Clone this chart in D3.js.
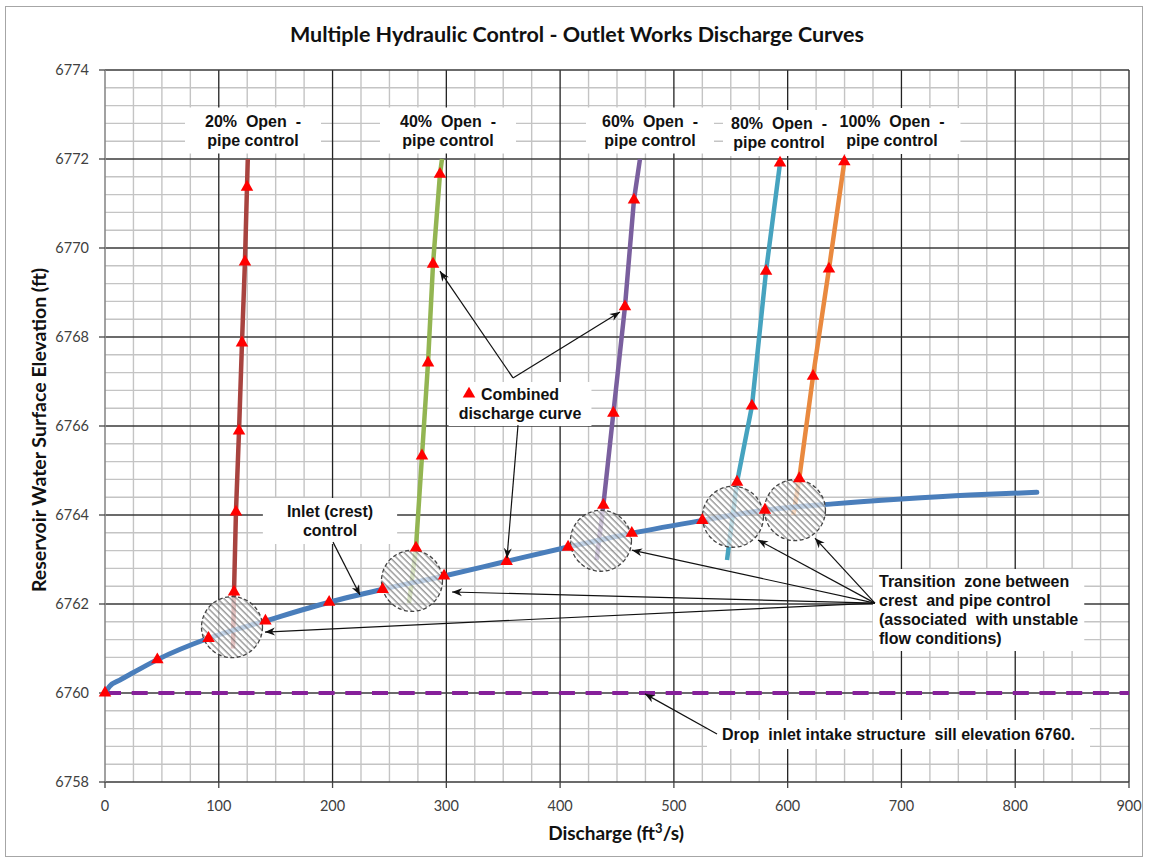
<!DOCTYPE html>
<html>
<head>
<meta charset="utf-8">
<script src="https://cdn.jsdelivr.net/npm/d3@7"></script>
<style>
  body { margin: 0; background: #fff; }
  svg { display: block; }
  .note { font-family: "Liberation Sans", Arial, sans-serif; font-weight: bold; font-size: 16px; fill: #111; white-space: pre; }
</style>
</head>
<body>
<svg></svg>
<script>
let width = 1149;
let height = 863;

// inlet (crest) control curve
let crestQ = [0, 4, 13, 25, 46, 91, 141, 197, 244, 298, 353, 407, 463, 525, 580, 640, 700, 760, 819];
let crestH = [6760, 6760.15, 6760.29, 6760.46, 6760.75, 6761.23, 6761.62, 6762.04, 6762.33, 6762.63,
              6762.96, 6763.28, 6763.59, 6763.88, 6764.11, 6764.25, 6764.36, 6764.45, 6764.51];
let crestMarkQ = [0, 46, 91, 141, 197, 244, 298, 353, 407, 463, 525, 580];
let crestMarkH = [6760, 6760.75, 6761.23, 6761.62, 6762.04, 6762.33, 6762.63, 6762.96, 6763.28, 6763.59, 6763.88, 6764.11];

// pipe control curves, one per gate opening
let pipeNames = ["20%", "40%", "60%", "80%", "100%"];
let pipeColours = ["#a8433f", "#93b552", "#7a5f9e", "#46a3bf", "#e9893f"];
let pipeQ = [
  [112.5, 113.4, 115.1, 117.8, 120.4, 123.0, 124.8, 125.5],
  [267.2, 273.3, 278.6, 283.9, 288.3, 294.4, 296.2],
  [432.1, 438.0, 446.8, 457.0, 464.9, 470.2],
  [546.7, 555.5, 568.6, 581.0, 593.3],
  [605.0, 610.2, 622.3, 636.3, 649.8]
];
let pipeH = [
  [6761.0, 6762.27, 6764.07, 6765.89, 6767.87, 6769.69, 6771.37, 6772.0],
  [6762.02, 6763.26, 6765.33, 6767.42, 6769.64, 6771.66, 6772.0],
  [6762.99, 6764.22, 6766.29, 6768.68, 6771.08, 6772.0],
  [6762.99, 6764.74, 6766.45, 6769.48, 6771.91],
  [6764.0, 6764.82, 6767.12, 6769.53, 6771.94]
];
let pipeMarkQ = [
  [113.4, 115.1, 117.8, 120.4, 123.0, 124.8],
  [273.3, 278.6, 283.9, 288.3, 294.4],
  [438.0, 446.8, 457.0, 464.9],
  [555.5, 568.6, 581.0, 593.3],
  [610.2, 622.3, 636.3, 649.8]
];
let pipeMarkH = [
  [6762.27, 6764.07, 6765.89, 6767.87, 6769.69, 6771.37],
  [6763.26, 6765.33, 6767.42, 6769.64, 6771.66],
  [6764.22, 6766.29, 6768.68, 6771.08],
  [6764.74, 6766.45, 6769.48, 6771.91],
  [6764.82, 6767.12, 6769.53, 6771.94]
];

// transition zones (crest -> pipe control)
let zoneQ = [111.6, 269.8, 435.9, 551.9, 606.4];
let zoneH = [6761.48, 6762.52, 6763.42, 6763.96, 6764.11];

let sillElevation = 6760;

let xTicks = [0, 100, 200, 300, 400, 500, 600, 700, 800, 900];
let yTicks = [6758, 6760, 6762, 6764, 6766, 6768, 6770, 6772, 6774];

// annotation arrows, [from, to] in data units
let arrows = [
  [[200.4, 6763.39], [224.1, 6762.20]],
  [[358.6, 6767.08], [294.4, 6769.48]],
  [[358.6, 6767.08], [452.6, 6768.56]],
  [[363.0, 6766.02], [353.3, 6763.03]],
  [[676.7, 6762.02], [624.0, 6763.48]],
  [[676.7, 6762.02], [573.9, 6763.44]],
  [[676.7, 6762.02], [463.2, 6763.21]],
  [[676.7, 6762.02], [305.0, 6762.27]],
  [[676.7, 6762.02], [140.6, 6761.37]],
  [[537.9, 6759.08], [474.6, 6759.98]]
];

let notes = [
  {lines: ["20%  Open  -", "pipe control"], x: 253, y: 126.5, anchor: "middle", pad: [20, 5]},
  {lines: ["40%  Open  -", "pipe control"], x: 448, y: 126.5, anchor: "middle", pad: [20, 5]},
  {lines: ["60%  Open  -", "pipe control"], x: 650, y: 126.5, anchor: "middle", pad: [16, 5]},
  {lines: ["80%  Open  -", "pipe control"], x: 779, y: 129, anchor: "middle", pad: [8, 5]},
  {lines: ["100%  Open  -", "pipe control"], x: 892, y: 127, anchor: "middle", pad: [16, 5]},
  {lines: ["Inlet (crest)", "control"], x: 330, y: 517, anchor: "middle", pad: [24, 5]},
  {lines: ["Combined", "discharge curve"], x: 520, y: 400, anchor: "middle", pad: [10, 4]},
  {lines: ["Transition  zone between", "crest  and pipe control", "(associated  with unstable", "flow conditions)"],
   x: 879, y: 587, anchor: "start", pad: [6, 4]},
  {lines: ["Drop  inlet intake structure  sill elevation 6760."], x: 722, y: 740, anchor: "start", pad: [15, 6]}
];

let svg = d3.select("svg")
  .attr("width", width)
  .attr("height", height)
  .style("background-color", "#fff");

let x = d3.scaleLinear().domain([0, 900]).range([105, 1129]);
let y = d3.scaleLinear().domain([6758, 6774]).range([782, 70]);

// outer chart border
svg.append("rect")
  .attr("x", 5.5).attr("y", 6.5)
  .attr("width", 1137).attr("height", 850)
  .attr("fill", "none")
  .attr("stroke", "#a6a6a6");

let defs = svg.append("defs");
let hatch = defs.append("pattern")
  .attr("id", "hatch")
  .attr("width", 4.5).attr("height", 4.5)
  .attr("patternUnits", "userSpaceOnUse")
  .attr("patternTransform", "rotate(-45)");
hatch.append("line")
  .attr("x1", 1).attr("y1", 0).attr("x2", 1).attr("y2", 4.5)
  .attr("stroke", "#5a5a5a").attr("stroke-width", 0.9);

defs.append("marker")
  .attr("id", "arrow")
  .attr("viewBox", "-11 -5 12 10")
  .attr("refX", 0).attr("refY", 0)
  .attr("markerWidth", 12).attr("markerHeight", 10)
  .attr("markerUnits", "userSpaceOnUse")
  .attr("orient", "auto")
  .append("path")
    .attr("d", "M0,0 L-10,-4 L-7,0 L-10,4 Z")
    .attr("fill", "#111");

// grid
let grid = svg.append("g");
let minorX = d3.range(0, 901, 25).filter(d => d % 100 !== 0);
let minorY = d3.range(0, 41).map(i => 6758 + i * 0.4).filter(d => Math.abs(d - Math.round(d / 2) * 2) > 0.01);

grid.selectAll(".minor-x").data(minorX).enter().append("line")
  .attr("x1", d => x(d)).attr("x2", d => x(d))
  .attr("y1", y(6758)).attr("y2", y(6774))
  .attr("stroke", "#c4c4c4").attr("stroke-width", 1.4);
grid.selectAll(".minor-y").data(minorY).enter().append("line")
  .attr("x1", x(0)).attr("x2", x(900))
  .attr("y1", d => y(d)).attr("y2", d => y(d))
  .attr("stroke", "#c4c4c4").attr("stroke-width", 1.4);

let boxLayer = svg.append("g");

grid.selectAll(".major-x").data(xTicks.slice(1)).enter().append("line")
  .attr("x1", d => x(d)).attr("x2", d => x(d))
  .attr("y1", y(6758)).attr("y2", y(6774))
  .attr("stroke", "#222").attr("stroke-width", 1.3);
grid.selectAll(".major-y").data(yTicks).enter().append("line")
  .attr("x1", x(0)).attr("x2", x(900))
  .attr("y1", d => y(d)).attr("y2", d => y(d))
  .attr("stroke", "#3a3a3a").attr("stroke-width", 1.4);
// left axis line
grid.append("line")
  .attr("x1", x(0)).attr("x2", x(0))
  .attr("y1", y(6758)).attr("y2", y(6774))
  .attr("stroke", "#8a8a8a").attr("stroke-width", 1.6);

// tick marks
grid.selectAll(".tick-y").data(yTicks).enter().append("line")
  .attr("x1", x(0) - 6).attr("x2", x(0))
  .attr("y1", d => y(d)).attr("y2", d => y(d))
  .attr("stroke", "#444").attr("stroke-width", 1.3);
grid.selectAll(".tick-x").data(xTicks).enter().append("line")
  .attr("x1", d => x(d)).attr("x2", d => x(d))
  .attr("y1", y(6758)).attr("y2", y(6758) + 6)
  .attr("stroke", "#444").attr("stroke-width", 1.3);

// tick labels
svg.selectAll(".ylab").data(yTicks).enter().append("text")
  .attr("x", 89).attr("y", d => y(d))
  .attr("dy", ".35em")
  .attr("text-anchor", "end")
  .style("font-family", "Lato, sans-serif")
  .style("font-size", "14.5px")
  .style("fill", "#404040")
  .text(d => d);
svg.selectAll(".xlab").data(xTicks).enter().append("text")
  .attr("x", d => x(d)).attr("y", 811)
  .attr("text-anchor", "middle")
  .style("font-family", "Lato, sans-serif")
  .style("font-size", "14.5px")
  .style("fill", "#404040")
  .text(d => d);

// titles
svg.append("text")
  .attr("x", 577).attr("y", 42)
  .attr("text-anchor", "middle")
  .style("font-family", "Lato, sans-serif")
  .style("font-weight", "bold")
  .style("font-size", "21.5px")
  .style("fill", "#111")
  .text("Multiple Hydraulic Control - Outlet Works Discharge Curves");

svg.append("text")
  .attr("transform", "translate(46,430) rotate(-90)")
  .attr("text-anchor", "middle")
  .style("font-family", "Lato, sans-serif")
  .style("font-weight", "bold")
  .style("font-size", "19.5px")
  .style("fill", "#111")
  .text("Reservoir Water Surface Elevation (ft)");

let xTitle = svg.append("text")
  .attr("x", 616).attr("y", 840)
  .attr("text-anchor", "middle")
  .style("font-family", "Lato, sans-serif")
  .style("font-weight", "bold")
  .style("font-size", "19px")
  .style("fill", "#111");
xTitle.append("tspan").text("Discharge (ft");
xTitle.append("tspan").attr("dy", -7).style("font-size", "13px").text("3");
xTitle.append("tspan").attr("dy", 7).text("/s)");

// sill elevation
svg.append("line")
  .attr("x1", x(0)).attr("x2", x(900))
  .attr("y1", y(sillElevation)).attr("y2", y(sillElevation))
  .attr("stroke", "#86209a")
  .attr("stroke-width", 4)
  .attr("stroke-dasharray", "16,10.7");

// curves
let line = d3.line().x(d => x(d[0])).y(d => y(d[1]));

pipeNames.forEach((name, i) => {
  svg.append("path")
    .datum(d3.zip(pipeQ[i], pipeH[i]))
    .attr("class", "pipe-" + name)
    .attr("d", line)
    .attr("fill", "none")
    .attr("stroke", pipeColours[i])
    .attr("stroke-width", 4.5)
    .attr("stroke-linejoin", "round");
});

svg.append("path")
  .datum(d3.zip(crestQ, crestH))
  .attr("d", line.curve(d3.curveMonotoneX))
  .attr("fill", "none")
  .attr("stroke", "#4a7ebb")
  .attr("stroke-width", 5)
  .attr("stroke-linecap", "round");

// transition zone circles
let zones = svg.selectAll(".zone").data(d3.zip(zoneQ, zoneH)).enter().append("g")
  .attr("transform", d => "translate(" + x(d[0]) + "," + y(d[1]) + ")");
zones.append("circle").attr("r", 30.5).attr("fill", "#fff").attr("fill-opacity", 0.68);
zones.append("circle").attr("r", 30.5).attr("fill", "url(#hatch)");
zones.append("circle").attr("r", 30.5)
  .attr("fill", "none")
  .attr("stroke", "#444")
  .attr("stroke-width", 1.3)
  .attr("stroke-dasharray", "4,2.5");

// combined discharge points
let tri = d3.symbol().type(d3.symbolTriangle).size(68);
let marks = d3.zip(crestMarkQ, crestMarkH);
pipeNames.forEach((name, i) => {
  marks = marks.concat(d3.zip(pipeMarkQ[i], pipeMarkH[i]));
});
svg.selectAll(".mark").data(marks).enter().append("path")
  .attr("d", tri)
  .attr("transform", d => "translate(" + x(d[0]) + "," + y(d[1]) + ")")
  .attr("fill", "#ff0000");

// arrows
svg.selectAll(".arrow").data(arrows).enter().append("line")
  .attr("x1", d => x(d[0][0])).attr("y1", d => y(d[0][1]))
  .attr("x2", d => x(d[1][0])).attr("y2", d => y(d[1][1]))
  .attr("stroke", "#111")
  .attr("stroke-width", 1.2)
  .attr("marker-end", "url(#arrow)");

// text notes with white boxes behind
notes.forEach(n => {
  let t = svg.append("text")
    .attr("class", "note")
    .attr("text-anchor", n.anchor);
  n.lines.forEach((s, i) => {
    t.append("tspan").attr("x", n.x).attr("y", n.y + i * 19).text(s);
  });
  let b = t.node().getBBox();
  boxLayer.append("rect")
    .attr("x", b.x - n.pad[0]).attr("y", b.y - n.pad[1])
    .attr("width", b.width + 2 * n.pad[0]).attr("height", b.height + 2 * n.pad[1])
    .attr("fill", "#fff");
});

// legend marker in front of "Combined"
svg.append("path")
  .attr("d", tri)
  .attr("transform", "translate(469,394)")
  .attr("fill", "#ff0000");
</script>
</body>
</html>
